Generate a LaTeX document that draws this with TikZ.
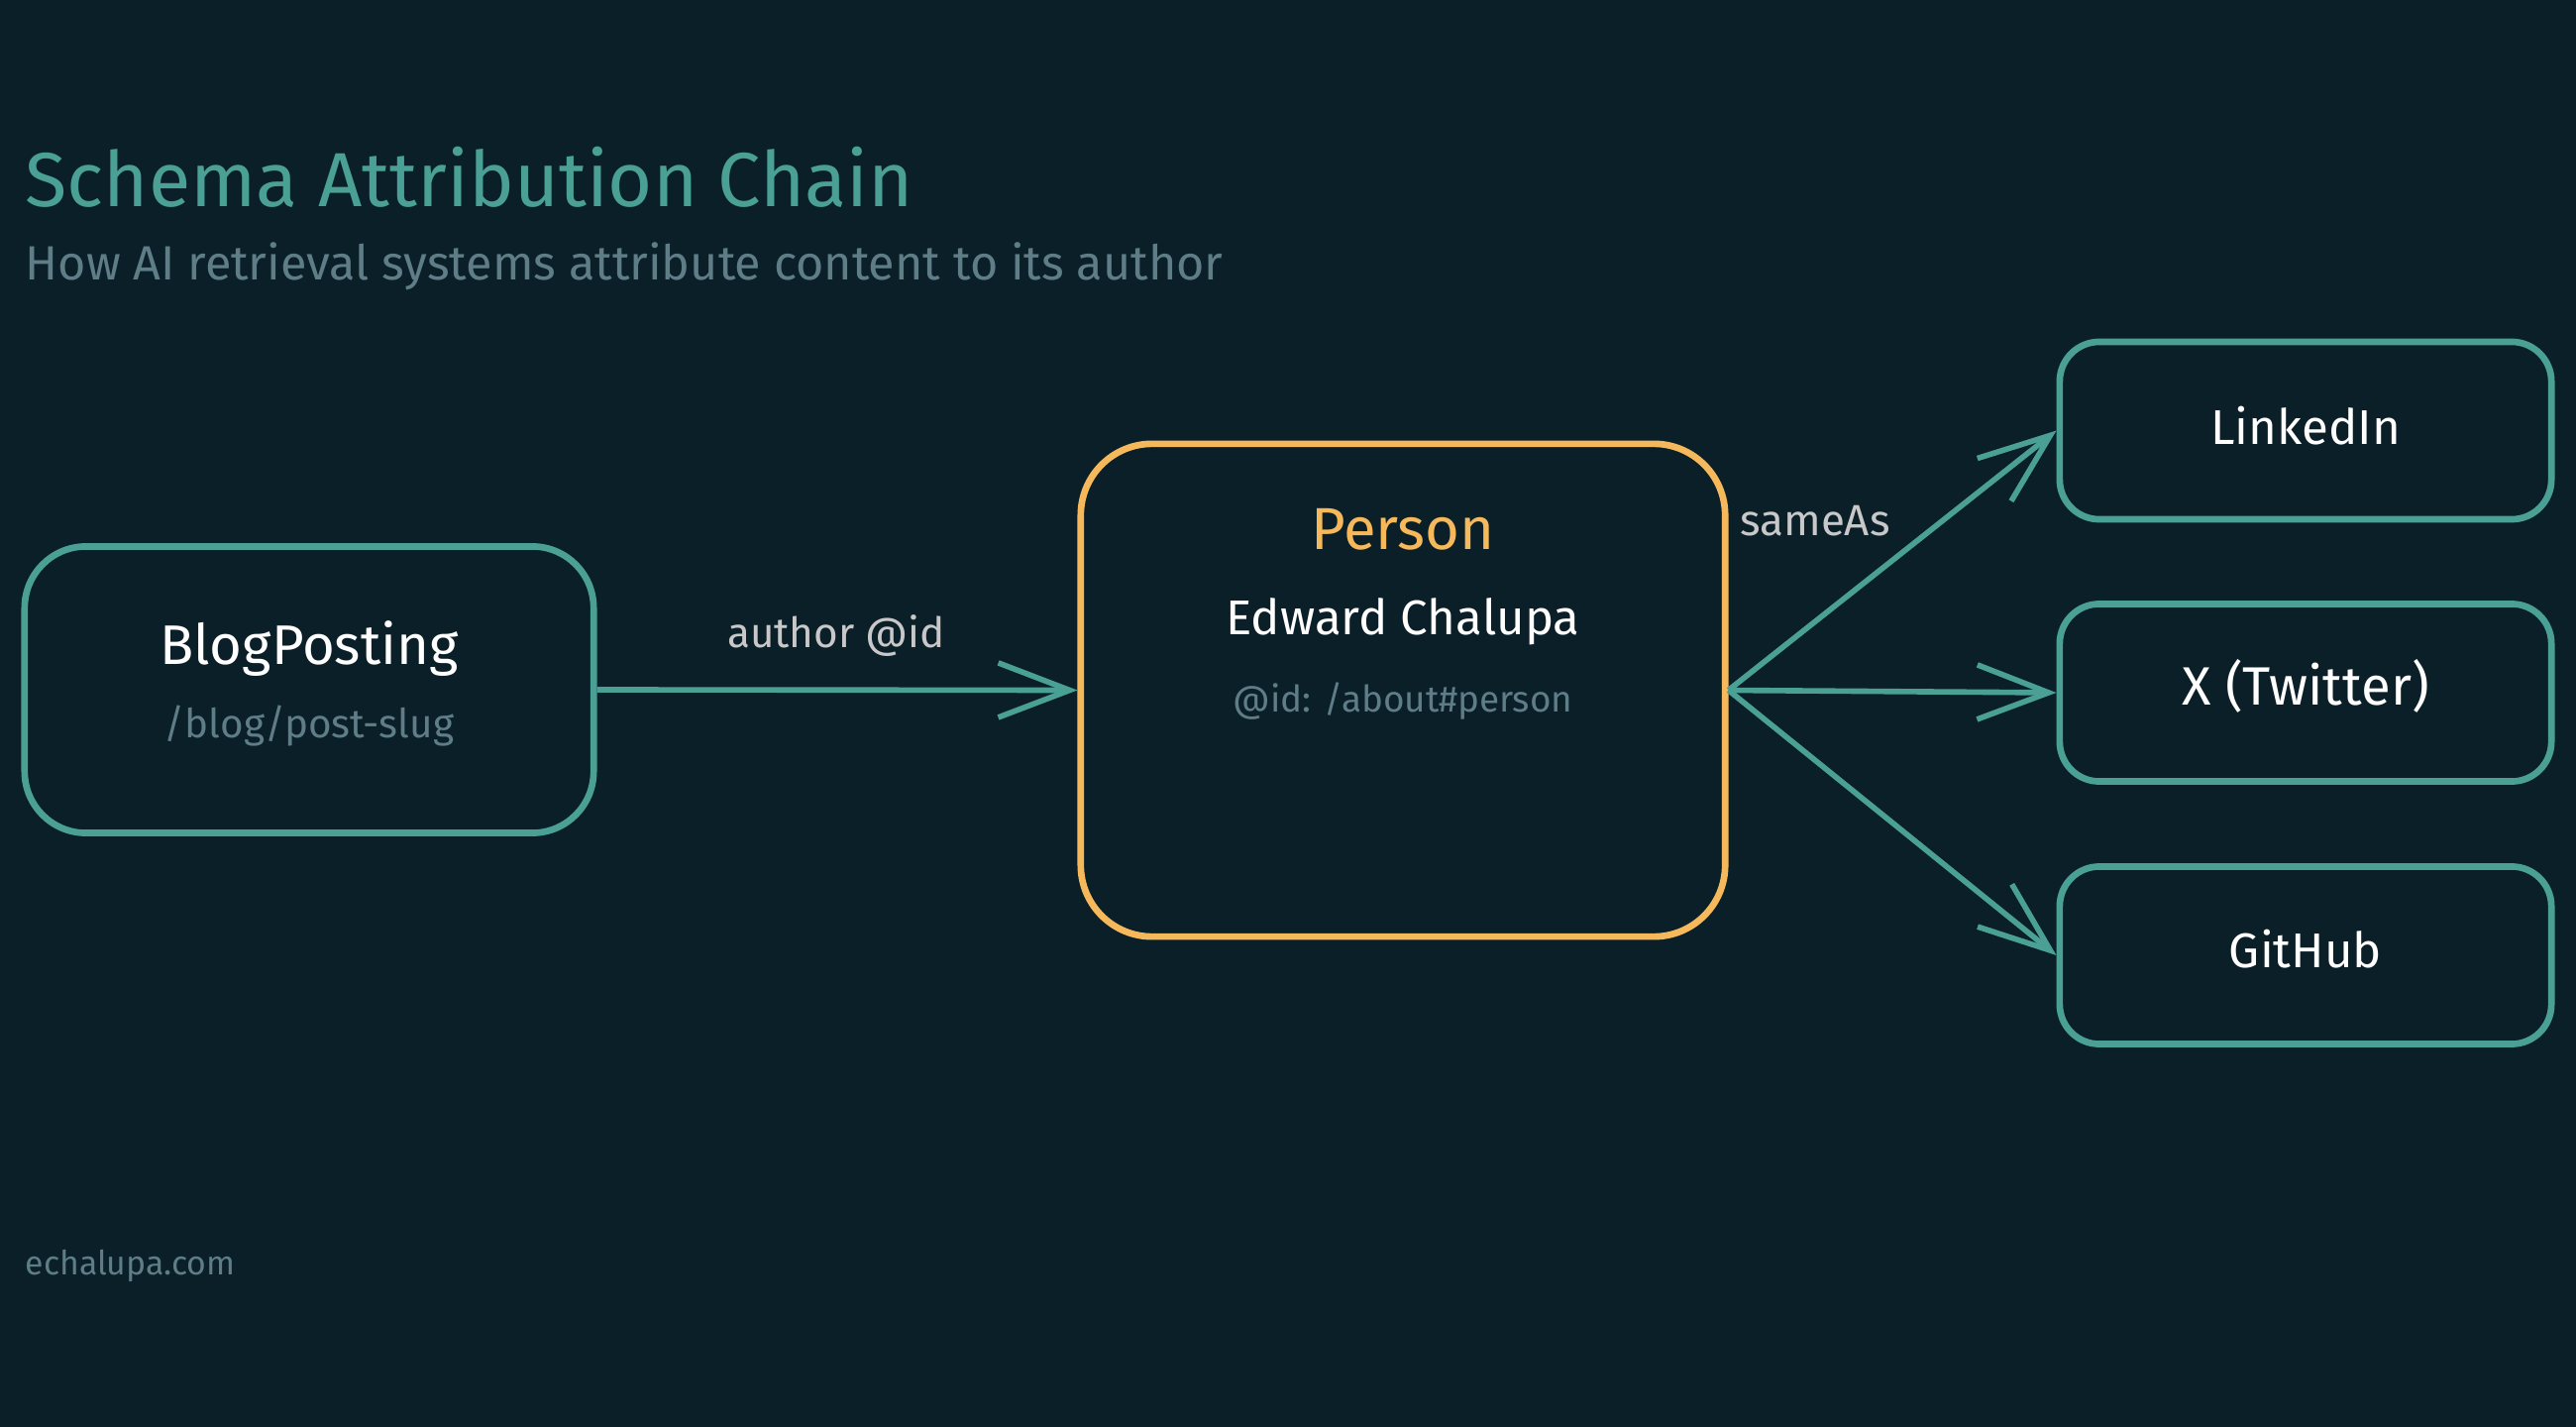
\documentclass[tikz,border=0pt]{standalone}
\usepackage{fontspec}
\setmainfont{Fira Sans}
\usetikzlibrary{arrows.meta}
\definecolor{bg}{HTML}{0B1F29}
\definecolor{teal}{HTML}{4AA094}
\definecolor{amber}{HTML}{F5B95C}
\definecolor{muted}{HTML}{5F7D87}
\definecolor{lbl}{HTML}{C8C8C8}
\tikzset{
  box/.style={draw=teal, line width=1.9pt, rounded corners=0.62cm, fill=bg},
  smallbox/.style={draw=teal, line width=1.9pt, rounded corners=0.4cm, fill=bg, minimum width=4.96cm, minimum height=1.79cm},
  personbox/.style={draw=amber, line width=1.9pt, rounded corners=0.72cm, fill=bg, minimum width=6.5cm, minimum height=4.97cm},
  conn/.style={draw=teal, line width=1.6pt, -{Straight Barb[length=0.72cm, width=0.55cm, line width=1.6pt]}},
  txt/.style={inner sep=0pt, anchor=center},
}
\begin{document}
\begin{tikzpicture}[x=0.01cm, y=-0.01cm]
\fill[bg] (0,0) rectangle (2600,1440);
\useasboundingbox (0,0) rectangle (2600,1440);

% title
\node[txt, anchor=west, text=teal, font=\fontsize{22}{26}\selectfont] (title) at (25,179) {Schema Attribution Chain};
\node[txt, anchor=west, text=muted, font=\fontsize{13.8}{16}\selectfont] (subtitle) at (25,269) {How AI retrieval systems attribute content to its author};

% boxes
\node[box, minimum width=5.74cm, minimum height=2.89cm] (blog) at (312,696) {};
\node[personbox] (person) at (1416,696.5) {};
\node[smallbox] (linkedin) at (2327,434.5) {};
\node[smallbox] (twitter) at (2327,699) {};
\node[smallbox] (github) at (2327,964) {};

% box texts
\node[txt, text=white, font=\fontsize{16}{18}\selectfont] (blogT) at (312,655) {BlogPosting};
\node[txt, text=muted, font=\fontsize{11.5}{14}\selectfont] (blogS) at (312,732) {/blog/post-slug};
\node[txt, text=amber, font=\fontsize{17}{20}\selectfont] (personT) at (1416,534) {Person};
\node[txt, text=white, font=\fontsize{14}{17}\selectfont] (personN) at (1416,627) {Edward Chalupa};
\node[txt, text=muted, font=\fontsize{10.5}{13}\selectfont] (personId) at (1416,708) {@id: /about\#person};
\node[txt, text=white, font=\fontsize{14}{17}\selectfont] (linkedinT) at (2327,430) {LinkedIn};
\node[txt, text=white, font=\fontsize{15.5}{18}\selectfont] (twitterT) at (2327,692) {X (Twitter)};
\node[txt, text=white, font=\fontsize{14}{17}\selectfont] (githubT) at (2327,958) {GitHub};

% connectors
\draw[conn] (blog.east) -- (person.west);
\draw[conn] (person.east) -- (linkedin.west);
\draw[conn] (person.east) -- (twitter.west);
\draw[conn] (person.east) -- (github.west);

% connector labels
\node[txt, text=lbl, font=\fontsize{12}{15}\selectfont] (authorLbl) at (844,642) {author @id};
\node[txt, text=lbl, font=\fontsize{12.5}{15}\selectfont] (sameAsLbl) at (1832,526) {sameAs};

% footer
\node[txt, anchor=west, text=muted, font=\fontsize{9.6}{12}\selectfont] (footer) at (25,1277) {echalupa.com};
\end{tikzpicture}
\end{document}
